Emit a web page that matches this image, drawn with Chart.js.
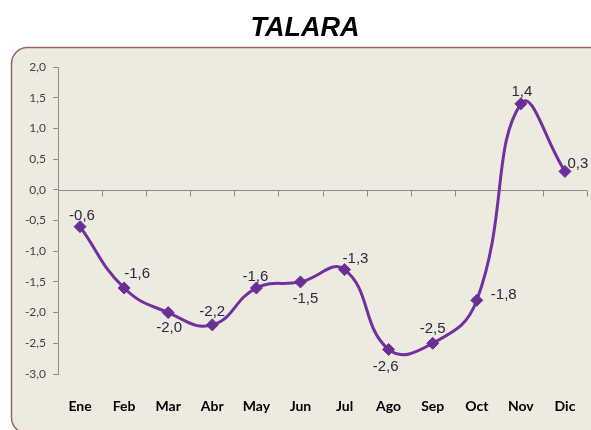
<!DOCTYPE html>
<html>
<head>
<meta charset="utf-8">
<script src="https://cdn.jsdelivr.net/npm/chart.js@4.4.1/dist/chart.umd.min.js"></script>
<style>
  html, body { margin: 0; padding: 0; background: #ffffff; }
  #wrap { width: 591px; height: 430px; position: relative; }
</style>
</head>
<body>
<div id="wrap"><canvas id="c" width="591" height="430"></canvas></div>
<script>
// ---- data ----
const chartTitle = 'TALARA';
const months = ['Ene','Feb','Mar','Abr','May','Jun','Jul','Ago','Sep','Oct','Nov','Dic'];
const values = [-0.6, -1.6, -2.0, -2.2, -1.6, -1.5, -1.3, -2.6, -2.5, -1.8, 1.4, 0.3];
const yTicks = [-3.0, -2.5, -2.0, -1.5, -1.0, -0.5, 0.0, 0.5, 1.0, 1.5, 2.0];

const fmt = v => v.toFixed(1).replace('.', ',');

// label offsets relative to each point (layout only)
const labelOffsets = [
  [2,-11],[13,-14],[1,15],[0,-13],[-1,-11],[5,17],[11,-11],[-3,17],[0,-14],[27,-5],[1,-12],[13,-8]
];

const panelPlugin = {
  id: 'panel',
  beforeDraw(chart) {
    const ctx = chart.ctx;
    ctx.save();
    const x = 11.5, y = 47.5, w = 620, h = 386, r = 16;
    ctx.beginPath();
    ctx.moveTo(x + r, y);
    ctx.lineTo(x + w - r, y);
    ctx.arcTo(x + w, y, x + w, y + r, r);
    ctx.lineTo(x + w, y + h - r);
    ctx.arcTo(x + w, y + h, x + w - r, y + h, r);
    ctx.lineTo(x + r, y + h);
    ctx.arcTo(x, y + h, x, y + h - r, r);
    ctx.lineTo(x, y + r);
    ctx.arcTo(x, y, x + r, y, r);
    ctx.closePath();
    ctx.fillStyle = '#EDEAE0';
    ctx.fill();
    ctx.lineWidth = 1.5;
    ctx.strokeStyle = '#9A6462';
    ctx.stroke();
    // title
    ctx.font = 'italic bold 27px "Liberation Sans", Arial, sans-serif';
    ctx.fillStyle = '#000000';
    ctx.textAlign = 'center';
    ctx.textBaseline = 'middle';
    ctx.fillText(chartTitle, 305, 29);
    ctx.restore();
  }
};

const zeroAxisPlugin = {
  id: 'zeroAxis',
  beforeDatasetsDraw(chart) {
    const ctx = chart.ctx;
    const xs = chart.scales.x, ys = chart.scales.y;
    const y0 = Math.round(ys.getPixelForValue(0)) + 0.5;
    ctx.save();
    ctx.strokeStyle = '#8C8C8C';
    ctx.lineWidth = 1;
    ctx.beginPath();
    ctx.moveTo(xs.left, y0);
    ctx.lineTo(xs.right, y0);
    const n = months.length;
    const step = (xs.getPixelForValue(n - 1) - xs.getPixelForValue(0)) / (n - 1);
    for (let i = 0; i <= n; i++) {
      const px = Math.round(xs.getPixelForValue(0) - step / 2 + i * step) + 0.5;
      ctx.moveTo(px, y0);
      ctx.lineTo(px, y0 + 6);
    }
    ctx.stroke();
    ctx.restore();
  }
};

const labelPlugin = {
  id: 'pointLabels',
  afterDatasetsDraw(chart) {
    const ctx = chart.ctx;
    const meta = chart.getDatasetMeta(0);
    ctx.save();
    ctx.font = '15px "Liberation Sans", Arial, sans-serif';
    ctx.fillStyle = '#28283F';
    ctx.textAlign = 'center';
    ctx.textBaseline = 'middle';
    meta.data.forEach((pt, i) => {
      const off = labelOffsets[i];
      ctx.fillText(fmt(values[i]), pt.x + off[0], pt.y + off[1]);
    });
    ctx.restore();
  }
};

new Chart(document.getElementById('c'), {
  type: 'line',
  data: {
    labels: months,
    datasets: [{
      data: values,
      borderColor: '#7030A0',
      backgroundColor: '#7030A0',
      borderWidth: 3,
      tension: 0.45,
      pointStyle: 'rectRot',
      pointRadius: 6,
      pointHoverRadius: 6,
      pointBackgroundColor: '#6B2E99',
      pointBorderColor: '#6B2E99',
      pointBorderWidth: 1,
      fill: false,
      clip: false
    }]
  },
  options: {
    responsive: false,
    animation: false,
    devicePixelRatio: 1,
    layout: { autoPadding: false, padding: { left: 0, right: 4, top: 67, bottom: 0 } },
    plugins: {
      legend: { display: false },
      tooltip: { enabled: false },
      title: { display: false }
    },
    scales: {
      x: {
        type: 'category',
        offset: true,
        grid: { display: false, drawTicks: false },
        border: { display: false },
        afterFit(scale) { scale.height = 56; scale.paddingLeft = 0; scale.paddingRight = 0; },
        ticks: {
          padding: 0,
          color: '#000000',
          font: { family: 'Lato, sans-serif', size: 14, weight: 'bold', lineHeight: '64px' },
          maxRotation: 0,
          autoSkip: false
        }
      },
      y: {
        min: -3,
        max: 2,
        afterFit(scale) { scale.width = 58; },
        afterBuildTicks(scale) { scale.ticks = yTicks.map(v => ({ value: v })); },
        grid: {
          display: true,
          drawOnChartArea: false,
          drawTicks: true,
          tickLength: 5,
          color: '#8C8C8C'
        },
        border: { display: true, color: '#8C8C8C', width: 1 },
        ticks: {
          padding: 7,
          color: '#404040',
          font: { family: 'Lato, sans-serif', size: 12 },
          callback: v => fmt(v)
        }
      }
    }
  },
  plugins: [panelPlugin, zeroAxisPlugin, labelPlugin]
});
</script>
</body>
</html>
